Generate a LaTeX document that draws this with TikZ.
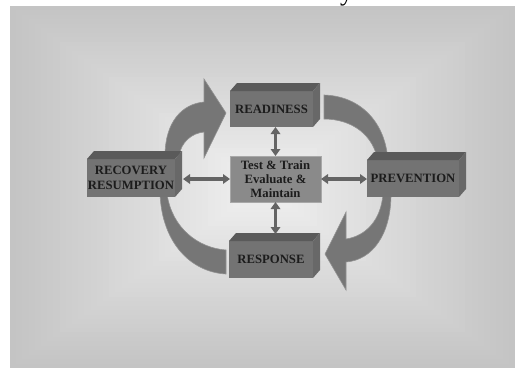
\documentclass[tikz,border=0pt]{standalone}
\usepackage{fontspec}
\setmainfont{Liberation Serif}
\usetikzlibrary{calc,arrows.meta}
\definecolor{frontc}{RGB}{115,115,115}
\definecolor{topc}{RGB}{90,90,90}
\definecolor{sidec}{RGB}{104,104,104}
\definecolor{testc}{RGB}{138,138,138}
\definecolor{testb}{RGB}{168,168,168}
\definecolor{bandc}{RGB}{118,118,118}
\definecolor{bandb}{RGB}{145,145,145}
\definecolor{dblc}{RGB}{100,100,100}
\definecolor{txtc}{RGB}{28,28,28}
\begin{document}
\begin{tikzpicture}[x=1pt,y=-1pt,
  blockfront/.style={rectangle, fill=frontc, inner sep=0pt, outer sep=0pt,
    font=\fontsize{12.7}{14.5}\selectfont\bfseries, text=txtc, align=center},
  testbox/.style={rectangle, fill=testc, draw=testb, line width=0.8pt, inner sep=0pt, outer sep=0pt,
    font=\fontsize{12.7}{14}\selectfont\bfseries, text=txtc, align=center},
  band/.style={fill=bandc, draw=bandb, line width=0.6pt},
  dbl/.style={draw=dblc, line width=3.6pt,
    {Triangle[width=9.5pt,length=7pt]}-{Triangle[width=9.5pt,length=7pt]}}]
\useasboundingbox (0,0) rectangle (516,368);
% background gradient
\foreach \i in {0,...,39}{
  \pgfmathsetmacro{\dx}{\i*6.2}
  \pgfmathsetmacro{\dy}{\i*4.45}
  \pgfmathtruncatemacro{\v}{196+\i*44/39}
  \definecolor{bgtmp}{RGB}{\v,\v,\v}
  \fill[bgtmp] (10+\dx,6+\dy) rectangle (515-\dx,368-\dy);
}
% cut-off title fragment
\begin{scope}
  \clip (0,0) rectangle (516,368);
  \node[anchor=base west, inner sep=0pt, font=\fontsize{26}{30}\selectfont] (ttl) at (340,0.5) {y};
\end{scope}
% curved arrows (behind the blocks)
\fill[band] (165,156) .. controls (165,122) and (182,104) .. (204,102) -- (204,79) -- (226,113)
  -- (204,158) -- (204,132) .. controls (192,133) and (181,142) .. (179,156) -- cycle;
\fill[band] (324,95) .. controls (360,96) and (386,122) .. (388,162) -- (378,162)
  .. controls (374,135) and (352,119) .. (324,119) -- cycle;
\fill[band] (391,194) .. controls (391,235) and (372,260) .. (346,262) -- (346,290) -- (325,254)
  -- (346,212) -- (346,239) .. controls (366,236) and (381,220) .. (383,194) -- cycle;
\fill[band] (160,194) .. controls (162,242) and (190,272) .. (226,274) -- (226,250)
  .. controls (198,248) and (172,228) .. (167,194) -- cycle;
% blocks
\node[blockfront, minimum width=83pt, minimum height=36pt] (rd) at (271.5,109) {READINESS};
\node[blockfront, minimum width=92pt, minimum height=37pt] (pv) at (413,178.5) {PREVENTION};
\node[blockfront, minimum width=88pt, minimum height=38pt] (rc) at (131,178) {RECOVERY\\RESUMPTION};
\node[blockfront, minimum width=84pt, minimum height=37pt] (rs) at (271,259.5) {RESPONSE};
\foreach \n in {rd,pv,rc,rs}{
  \fill[topc] (\n.north west) -- ++(7,-8) -- ($(\n.north east)+(7,-8)$) -- (\n.north east) -- cycle;
  \fill[sidec] (\n.north east) -- ++(7,-8) -- ($(\n.south east)+(7,-8)$) -- (\n.south east) -- cycle;
}
\node[testbox, minimum width=91pt, minimum height=46pt] (tt) at (275.5,179) {Test \& Train\\Evaluate \&\\Maintain};
% double arrows
\coordinate (resptop) at ($(rs.north)+(0,-7)$);
\coordinate (rcside) at ($(rc.east)+(8,0)$);
\draw[dbl] (rd.south -| tt.north) -- (tt.north);
\draw[dbl] (tt.south) -- (resptop -| tt.south);
\draw[dbl] (tt.west -| rcside) -- (tt.west);
\draw[dbl] (tt.east) -- (tt.east -| pv.west);
\end{tikzpicture}
\end{document}
